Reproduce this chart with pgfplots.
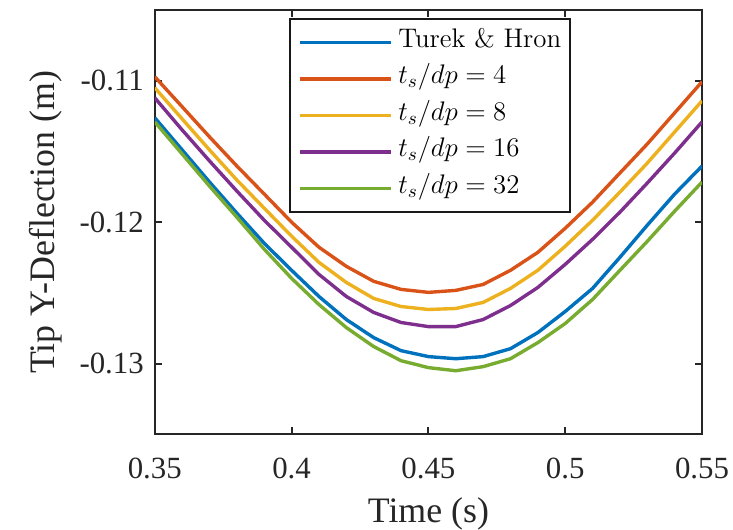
\RequirePackage{fix-cm}
\documentclass[border=0pt]{standalone}
\usepackage{fontspec}
\setmainfont{Liberation Serif}
\newfontfamily\lmfont{Latin Modern Roman}
\newfontfamily\tickfont{Liberation Serif}
\usepackage{pgfplots}
\pgfplotsset{compat=1.18}
\definecolor{mblue}{rgb}{0,0.447,0.741}
\definecolor{mred}{rgb}{0.85,0.325,0.098}
\definecolor{myellow}{rgb}{0.929,0.694,0.125}
\definecolor{mpurple}{rgb}{0.494,0.184,0.556}
\definecolor{mgreen}{rgb}{0.466,0.674,0.188}
\definecolor{axgray}{HTML}{262626}
\begin{document}
\begin{tikzpicture}
\begin{axis}[
  width=274bp, height=212.5bp, scale only axis,
  xmin=0.35, xmax=0.55, ymin=-0.135, ymax=-0.105,
  xtick={0.35,0.4,0.45,0.5,0.55},
  ytick={-0.13,-0.12,-0.11},
  xticklabels={\textrm{0.35},\textrm{0.4},\textrm{0.45},\textrm{0.5},\textrm{0.55}},
  yticklabels={\textrm{-0.13},\textrm{-0.12},\textrm{-0.11}},
  scaled x ticks=false, scaled y ticks=false,
  /pgf/number format/assume math mode=true,
  tick align=inside, major tick length=3.5bp,
  axis line style={draw=axgray, line width=1bp},
  every tick/.style={draw=axgray, line width=1bp},
  tick label style={font=\fontsize{15.5}{18}\selectfont\tickfont, text=axgray},
  xticklabel style={yshift=-8.5bp},
  yticklabel style={xshift=-2bp},
  label style={font=\fontsize{18}{21}\selectfont, text=axgray},
  xlabel={Time (s)}, ylabel={Tip Y-Deflection (m)},
  xlabel style={yshift=-2.5bp},
  ylabel style={yshift=2bp},
  legend cell align=left,
  legend image code/.code={\draw[#1] (0bp,0bp) -- (45.5bp,0bp);},
  legend style={at={(0.2445,0.981)}, anchor=north west, draw=black!90, line width=1bp,
    font=\fontsize{13.5}{16}\selectfont, inner xsep=4.25bp, inner ysep=2.5bp,
    column sep=3bp, row sep=0pt,
    nodes={inner sep=0pt, text height=11.5bp, text depth=6.8bp, anchor=west}},
  every axis plot/.append style={line width=1.7bp},
]
\addplot[mblue] coordinates {
(0.35,-0.11262)(0.36,-0.11489)(0.37,-0.11716)(0.38,-0.11936)(0.39,-0.12149)(0.40,-0.12340)
(0.41,-0.12525)(0.42,-0.12688)(0.43,-0.12816)(0.44,-0.12908)(0.45,-0.12950)(0.46,-0.12965)
(0.47,-0.12950)(0.48,-0.12894)(0.49,-0.12780)(0.50,-0.12631)(0.51,-0.12468)(0.52,-0.12248)
(0.53,-0.12021)(0.54,-0.11801)(0.55,-0.11603)};
\addlegendentry{{\lmfont Turek \& Hron}}
\addplot[mred] coordinates {
(0.35,-0.10972)(0.36,-0.11184)(0.37,-0.11397)(0.38,-0.11603)(0.39,-0.11801)(0.40,-0.12000)
(0.41,-0.12177)(0.42,-0.12312)(0.43,-0.12418)(0.44,-0.12475)(0.45,-0.12496)(0.46,-0.12482)
(0.47,-0.12440)(0.48,-0.12340)(0.49,-0.12213)(0.50,-0.12043)(0.51,-0.11858)(0.52,-0.11652)
(0.53,-0.11447)(0.54,-0.11227)(0.55,-0.11007)};
\addlegendentry{$t_s/dp=4$}
\addplot[myellow] coordinates {
(0.35,-0.11050)(0.36,-0.11270)(0.37,-0.11489)(0.38,-0.11702)(0.39,-0.11901)(0.40,-0.12099)
(0.41,-0.12284)(0.42,-0.12426)(0.43,-0.12539)(0.44,-0.12596)(0.45,-0.12617)(0.46,-0.12610)
(0.47,-0.12567)(0.48,-0.12468)(0.49,-0.12340)(0.50,-0.12170)(0.51,-0.11986)(0.52,-0.11787)
(0.53,-0.11582)(0.54,-0.11362)(0.55,-0.11142)};
\addlegendentry{$t_s/dp=8$}
\addplot[mpurple] coordinates {
(0.35,-0.11121)(0.36,-0.11348)(0.37,-0.11567)(0.38,-0.11780)(0.39,-0.11986)(0.40,-0.12177)
(0.41,-0.12369)(0.42,-0.12525)(0.43,-0.12638)(0.44,-0.12709)(0.45,-0.12738)(0.46,-0.12738)
(0.47,-0.12688)(0.48,-0.12589)(0.49,-0.12461)(0.50,-0.12298)(0.51,-0.12121)(0.52,-0.11929)
(0.53,-0.11723)(0.54,-0.11511)(0.55,-0.11291)};
\addlegendentry{$t_s/dp=16$}
\addplot[mgreen] coordinates {
(0.35,-0.11291)(0.36,-0.11518)(0.37,-0.11745)(0.38,-0.11965)(0.39,-0.12191)(0.40,-0.12397)
(0.41,-0.12582)(0.42,-0.12745)(0.43,-0.12879)(0.44,-0.12979)(0.45,-0.13028)(0.46,-0.13050)
(0.47,-0.13021)(0.48,-0.12965)(0.49,-0.12851)(0.50,-0.12716)(0.51,-0.12546)(0.52,-0.12340)
(0.53,-0.12135)(0.54,-0.11922)(0.55,-0.11716)};
\addlegendentry{$t_s/dp=32$}
\end{axis}
\pgfresetboundingbox
\path (-77.5bp,-47.5bp) rectangle (289.5bp,217.5bp);
\end{tikzpicture}
\end{document}
